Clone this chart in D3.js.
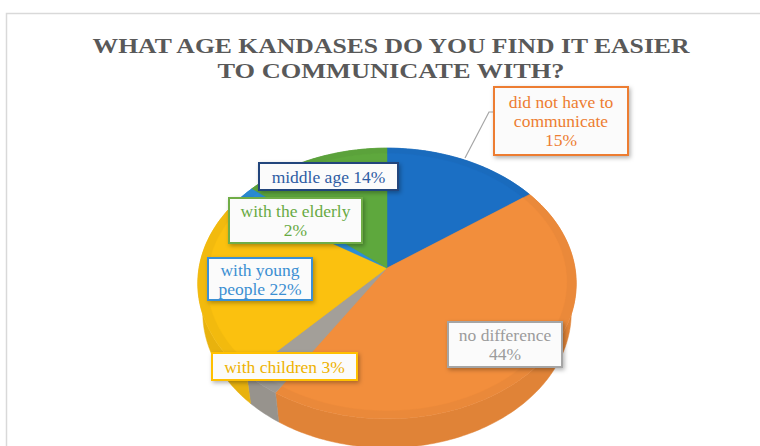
<!DOCTYPE html>
<html>
<head>
<meta charset="utf-8">
<script src="https://cdn.jsdelivr.net/npm/d3@7"></script>
<style>
  body { margin: 0; background: #fff; }
  svg { display: block; }
  .serif { font-family: "Liberation Serif", "Times New Roman", Times, "DejaVu Serif", serif; }
</style>
</head>
<body>
<div id="chart"></div>
<script>
// ---- data ----
const categories = ["did not have to communicate", "no difference", "with children", "with young people", "with the elderly", "middle age"];
const values = [15, 44, 3, 22, 2, 14];
const titleLines = ["WHAT AGE KANDASES DO YOU FIND IT EASIER", "TO COMMUNICATE WITH?"];

// ---- styles / layout ----
const sliceColors = ["#1b6fc4", "#f28e3c", "#a39f99", "#fbc10f", "#2b8ed8", "#5ea83d"];
const labelStroke = ["#ed7d31", "#a5a5a5", "#ffc000", "#3b90d4", "#70ad47", "#23457c"];
const labelFill = ["#ed7d31", "#9c9c9c", "#eeb200", "#3b8fd2", "#68aa43", "#2e5ca3"];
// box [x, y, w, h] and words per line for each label
const labelBox = [[494, 87, 134, 68], [448, 322, 114, 45], [212, 353, 145, 27], [208, 258, 104, 42], [229, 198, 133, 45], [259, 163, 139, 27]];
const labelBreaks = [[4, 1, 1], [2, 1], [3], [2, 2], [3, 1], [3]];

const W = 760, H = 446;
const view = {cx: 387, cy: 268, k: 1156, D: 6.15, e: 45.3 * Math.PI / 180, t: 0.23};

const svg = d3.select("#chart").append("svg").attr("width", W).attr("height", H);
const defs = svg.append("defs");
defs.append("filter").attr("id", "shadow").attr("x", "-20%").attr("y", "-30%").attr("width", "150%").attr("height", "170%")
    .append("feDropShadow").attr("dx", 1.5).attr("dy", 2).attr("stdDeviation", 2)
    .attr("flood-color", "#000").attr("flood-opacity", 0.3);

// chart frame
svg.append("rect").attr("x", 6.5).attr("y", 13.5).attr("width", W).attr("height", H)
    .attr("fill", "#fff").attr("stroke", "#d9d9d9").attr("stroke-width", 1.5);

// title
svg.append("g").selectAll("text").data(titleLines).enter().append("text")
    .attr("class", "serif")
    .attr("x", 391).attr("y", (d, i) => 53 + i * 25)
    .attr("text-anchor", "middle")
    .attr("font-weight", "bold").attr("font-size", 22)
    .attr("fill", "#595959")
    .attr("textLength", (d, i) => i === 0 ? 597 : 347)
    .attr("lengthAdjust", "spacingAndGlyphs")
    .text(d => d);

// perspective projection of a point on the pie (angle clockwise from top, radius fraction, height)
function proj(a, r, h) {
    const X = r * Math.sin(a), Z = r * Math.cos(a);
    const ce = Math.cos(view.e), se = Math.sin(view.e);
    const y = Z * se + h * ce, z = Z * ce - h * se;
    const s = view.k / (view.D + z);
    return [view.cx + X * s, view.cy - y * s];
}
function arcAngles(a0, a1) {
    const step = Math.PI / 180;
    const arr = d3.range(a0, a1, step);
    arr.push(a1);
    return arr;
}

const arcs = d3.pie().sort(null).startAngle(0).endAngle(2 * Math.PI)(values);
const line = d3.line();
const pie = svg.append("g");

// side walls
pie.selectAll(".side").data(arcs).enter().append("path")
    .attr("class", "side")
    .attr("d", d => {
        const as = arcAngles(d.startAngle, d.endAngle);
        const top = as.map(a => proj(a, 1, 0));
        const bot = as.slice().reverse().map(a => proj(a, 1, -view.t));
        return line(top.concat(bot)) + "Z";
    })
    .attr("fill", (d, i) => d3.color(sliceColors[i]).darker(0.22))
    .attr("stroke", (d, i) => d3.color(sliceColors[i]).darker(0.22)).attr("stroke-width", 0.5);

// top faces with a bevelled rim
function topPath(d, r) {
    const pts = [proj(0, 0, 0)].concat(arcAngles(d.startAngle, d.endAngle).map(a => proj(a, r, 0)));
    return line(pts) + "Z";
}
pie.selectAll(".rim").data(arcs).enter().append("path")
    .attr("class", "rim")
    .attr("d", d => topPath(d, 1))
    .attr("fill", (d, i) => d3.color(sliceColors[i]).darker(0.1))
    .attr("stroke", (d, i) => d3.color(sliceColors[i]).darker(0.1)).attr("stroke-width", 0.5);
pie.selectAll(".top").data(arcs).enter().append("path")
    .attr("class", "top")
    .attr("d", d => topPath(d, 0.95))
    .attr("fill", (d, i) => sliceColors[i])
    .attr("stroke", (d, i) => sliceColors[i]).attr("stroke-width", 0.5);

// leader line for the first label
svg.append("polyline")
    .attr("points", [[494, 112], [489, 112], [465, 158]].map(p => p.join(",")).join(" "))
    .attr("fill", "none").attr("stroke", "#a6a6a6").attr("stroke-width", 1.2);

// labels
const labels = svg.append("g").selectAll("g").data(arcs).enter().append("g");
labels.append("rect")
    .attr("x", (d, i) => labelBox[i][0]).attr("y", (d, i) => labelBox[i][1])
    .attr("width", (d, i) => labelBox[i][2]).attr("height", (d, i) => labelBox[i][3])
    .attr("fill", "#fbfbfb").attr("stroke", (d, i) => labelStroke[i]).attr("stroke-width", 2)
    .attr("filter", "url(#shadow)");
labels.each(function(d, i) {
    const words = (categories[i] + " " + values[i] + "%").split(" ");
    const lines = [];
    let k = 0;
    for (const n of labelBreaks[i]) { lines.push(words.slice(k, k + n).join(" ")); k += n; }
    const b = labelBox[i];
    const lh = 19;
    const y0 = b[1] + b[3] / 2 - (lines.length - 1) * lh / 2 + 6;
    d3.select(this).selectAll("text").data(lines).enter().append("text")
        .attr("class", "serif")
        .attr("x", b[0] + b[2] / 2).attr("y", (s, j) => y0 + j * lh)
        .attr("text-anchor", "middle")
        .attr("font-size", 17.5)
        .attr("fill", labelFill[i])
        .text(s => s);
});
</script>
</body>
</html>
